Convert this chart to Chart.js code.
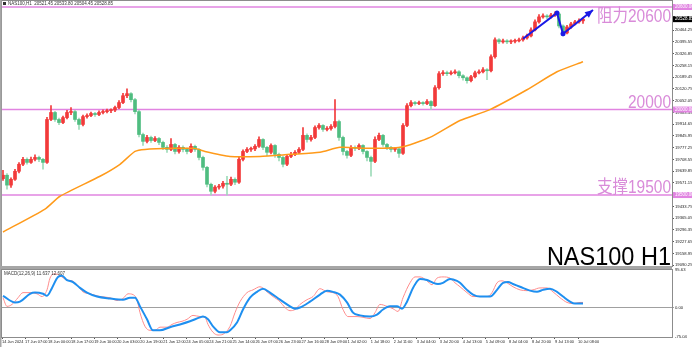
<!DOCTYPE html>
<html>
<head>
<meta charset="utf-8">
<script src="https://cdn.jsdelivr.net/npm/chart.js@4.4.1/dist/chart.umd.min.js"></script>
<style>
  html, body { margin: 0; padding: 0; background: #fff; }
  #wrap { position: relative; width: 692px; height: 347px; overflow: hidden; }
  #mainChart { position: absolute; left: 0; top: 0; }
  #macdChart { position: absolute; left: 0; top: 268px; }
</style>
</head>
<body>
<div id="wrap">
  <canvas id="mainChart" width="692" height="268"></canvas>
  <canvas id="macdChart" width="692" height="79"></canvas>
</div>
<script>
// NAS100 H1 candles (~3h per candle)
const firstOpen = 19596;
const closes = [
  19616, 19558, 19592, 19639, 19680, 19709, 19691, 19709, 19720, 19709,
  19691, 19942, 19983, 19942, 19924, 19953, 19983, 19988, 19942, 19913,
  19959, 19965, 19977, 19971, 19983, 19988, 19994, 19997, 20012, 20041,
  20081, 20093, 20058, 19988, 19854, 19814, 19837, 19819, 19831, 19808,
  19779, 19767, 19796, 19755, 19779, 19767, 19755, 19785, 19767, 19720,
  19662, 19563, 19522, 19546, 19552, 19569, 19563, 19592, 19575, 19709,
  19755, 19767, 19770, 19785, 19825, 19779, 19750, 19790, 19738, 19720,
  19680, 19726, 19738, 19750, 19767, 19849, 19825, 19837, 19895, 19907,
  19884, 19889, 19901, 19930, 19837, 19755, 19732, 19779, 19773, 19790,
  19755, 19720, 19697, 19825, 19849, 19796, 19779, 19767, 19770, 19744,
  19907, 20023, 20041, 20035, 20041, 20035, 20047, 20023, 20128, 20210,
  20215, 20210, 20215, 20221, 20198, 20186, 20169, 20192, 20215, 20221,
  20233, 20227, 20309, 20408, 20396, 20402, 20396, 20399, 20402, 20408,
  20419, 20431, 20466, 20513, 20542, 20548, 20542, 20553, 20559, 20489,
  20448, 20483, 20501, 20513, 20519, 20528.85
];
const highs = [
  19645, 19625, 19600, 19650, 19690, 19720, 19718, 19722, 19735, 19728,
  19715, 19955, 20023, 19990, 19950, 19962, 19995, 20012, 19995, 19950,
  19968, 19975, 19985, 19984, 19992, 19998, 20003, 20005, 20020, 20052,
  20095, 20122, 20100, 20065, 19995, 19862, 19850, 19845, 19842, 19838,
  19815, 19790, 19830, 19802, 19790, 19788, 19775, 19800, 19792, 19772,
  19728, 19668, 19570, 19555, 19562, 19580, 19610, 19605, 19600, 19720,
  19765, 19778, 19780, 19795, 19840, 19830, 19785, 19800, 19795, 19745,
  19728, 19735, 19750, 19760, 19778, 19895, 19858, 19850, 19905, 19918,
  19912, 19900, 19912, 20058, 19938, 19845, 19762, 19790, 19788, 19800,
  19795, 19760, 19728, 19840, 19862, 19855, 19802, 19785, 19778, 19775,
  19918, 20035, 20052, 20048, 20050, 20047, 20058, 20052, 20140, 20222,
  20228, 20225, 20226, 20233, 20228, 20205, 20192, 20200, 20225, 20232,
  20245, 20240, 20320, 20420, 20415, 20412, 20410, 20408, 20412, 20418,
  20430, 20442, 20478, 20525, 20555, 20560, 20556, 20563, 20572, 20565,
  20495, 20492, 20510, 20522, 20530, 20533.8
];
const lows = [
  19585, 19534, 19545, 19585, 19630, 19672, 19680, 19685, 19700, 19695,
  19651, 19685, 19935, 19930, 19912, 19918, 19945, 19970, 19930, 19884,
  19905, 19950, 19958, 19960, 19965, 19975, 19980, 19982, 19988, 20005,
  20035, 20070, 20045, 19975, 19840, 19790, 19805, 19808, 19812, 19795,
  19765, 19750, 19760, 19740, 19745, 19752, 19740, 19748, 19755, 19705,
  19645, 19548, 19500, 19512, 19535, 19540, 19500, 19555, 19560, 19568,
  19700, 19748, 19755, 19760, 19778, 19765, 19730, 19740, 19720, 19700,
  19665, 19672, 19718, 19730, 19742, 19760, 19810, 19815, 19830, 19885,
  19872, 19875, 19880, 19892, 19820, 19735, 19715, 19725, 19760, 19765,
  19740, 19700, 19610, 19690, 19818, 19785, 19765, 19752, 19755, 19720,
  19738, 19900, 20015, 20025, 20028, 20025, 20028, 20000, 20018, 20120,
  20200, 20198, 20202, 20208, 20185, 20172, 20155, 20162, 20185, 20208,
  20215, 20175, 20220, 20300, 20385, 20388, 20385, 20386, 20390, 20395,
  20400, 20412, 20425, 20460, 20505, 20535, 20530, 20535, 20545, 20478,
  20430, 20442, 20475, 20495, 20505, 20504.45
];

// moving average (orange), read at candle positions
const maIdx = [0, 10.5, 14.25, 24.25, 29.25, 33, 35.5, 43, 48, 50.5, 56.75, 64.25,
  71.75, 79.25, 84.25, 91.75, 99.25, 106.75, 114.25, 121.75, 131, 138.5, 145];
const maValues = [19284, 19418, 19493, 19610, 19680, 19755, 19767, 19773, 19773, 19755, 19726, 19726,
  19738, 19750, 19779, 19773, 19779, 19837, 19936, 20000, 20116, 20221, 20280];

// blue trend arrows
const arrowIdx = [130, 138.5, 140, 147.5];
const arrowPrices = [20414, 20565, 20443, 20582];

// support / resistance
const levels = [20600, 20000, 19500];
const levelTexts = ["阻力20600", "20000", "支撑19500"];

const priceTicks = [19090.25, 19158.95, 19227.65, 19296.35, 19365.05, 19433.75, 19571.15,
  19639.85, 19708.55, 19777.25, 19845.95, 19914.65, 19983.35, 20052.05, 20120.75, 20189.45,
  20258.15, 20326.85, 20395.55, 20464.25];

// MACD panel
const macdIdx = [0, 1, 2.25, 3.75, 5, 6.75, 8.5, 9.75, 11, 11.75, 13, 14.25, 16, 17.25, 18.5, 20,
  21.75, 24.25, 26.75, 28.5, 30, 31.25, 32.5, 33.5, 34.25, 35.5, 36.75, 38, 39.25, 41, 42.25, 43.5,
  44.75, 46, 47.5, 49.25, 50.5, 51.25, 52.5, 53.75, 55, 56.75, 58, 59.25, 61, 62.5, 64.25, 66, 67.5,
  69.25, 70.5, 71.75, 73, 74.25, 76, 77.5, 79.25, 81, 82.5, 83.75, 85, 86.25, 88.5, 90, 91.75, 93,
  94.25, 96, 97.5, 98.75, 100, 101.75, 103, 104.25, 106, 107.25, 108.5, 110, 111.75, 113, 114.25,
  116, 117.5, 119.25, 121, 122.25, 123.5, 124.75, 126, 127.5, 129.25, 131, 132.5, 134.25, 136,
  137.5, 139.25, 141, 142.5, 144.25, 145];
const macdValues = [25, 3, 8, 25, 38, 38, 35, 28, 45, 75, 86, 81, 70, 68, 58, 40,
  35, 28, 25, 18, 23, 35, 33, 20, -13, -48, -58, -58, -50, -50, -43, -38,
  -35, -30, -20, -23, -25, -43, -63, -70, -68, -48, -13, 15, 38, 45, 53, 40, 28,
  15, 0, -8, -5, 8, 20, 28, 48, 40, 38, 28, -5, -23, -23, -25, -28, -13,
  8, 3, -3, -10, 25, 63, 78, 78, 68, 58, 75, 78, 75, 63, 53,
  38, 28, 28, 28, 38, 63, 68, 63, 53, 45, 43, 45, 50, 50,
  40, 25, 13, 10, 13, 13];
const signalIdx = [0, 3, 4.25, 6.75, 8, 10, 11, 12.25, 13.75, 14.75, 16, 17.5, 19.25, 21, 23.5,
  26.75, 30, 31.75, 33, 34.25, 36, 37.5, 39.25, 41.75, 44.25, 46.75, 49.25, 50, 51.25, 52.5,
  54.25, 56, 56.75, 58.5, 60, 61.75, 63.5, 65, 66.75, 69.25, 71.75, 73, 74.25, 76.75, 79.25, 81,
  82.5, 84.25, 86, 87.5, 89.25, 91.75, 93.5, 95, 96.75, 98.5, 99.75, 101, 102.5, 104.25, 106,
  107.5, 108.75, 110, 111.75, 113.5, 114.25, 116, 117.5, 119.25, 121.75, 123.5, 125, 126.25,
  127.5, 129.25, 131.75, 133.5, 135, 136.75, 138.5, 140, 141.75, 143, 145];
const signalValues = [30, 13, 15, 35, 38, 35, 30, 50, 78, 81, 70, 65, 50, 38, 28,
  23, 20, 25, 25, 3, -30, -58, -58, -50, -43, -35, -25, -23, -30, -48,
  -63, -63, -58, -38, -5, 25, 40, 48, 38, 20, 3, -3, 0, 15, 33, 43,
  40, 33, 13, -13, -20, -23, -18, -5, 3, 3, -3, 15, 50, 73, 70,
  63, 60, 63, 73, 68, 63, 45, 33, 28, 28, 45, 63, 65,
  60, 53, 43, 40, 45, 48, 40, 28, 15, 10, 10];
const macdTicks = [95.63, 0, -75.04];

const dateLabels = ["14 Jun 2024", "17 Jun 07:00", "18 Jun 00:00", "18 Jun 17:00", "19 Jun 10:00",
  "20 Jun 03:00", "20 Jun 19:00", "21 Jun 12:00", "24 Jun 05:00", "24 Jun 21:00", "25 Jun 14:00",
  "26 Jun 07:00", "26 Jun 23:00", "27 Jun 16:00", "28 Jun 09:00", "1 Jul 02:00", "1 Jul 18:00",
  "2 Jul 11:00", "3 Jul 04:00", "3 Jul 20:00", "4 Jul 13:00", "5 Jul 09:00", "8 Jul 04:00",
  "8 Jul 20:00", "9 Jul 13:00", "10 Jul 08:00"];

const headerText = "NAS100,H1  20521.45 20533.80 20504.45 20528.85";
const macdHeader = "MACD(12,26,9) 11.637 12.607";
const titleText = "NAS100 H1";

const levelColor = "#e184e1";
const levelTextColor = "#d98bd9";
const tinyFont = "4.5px 'Liberation Sans', sans-serif";
const xMin = -0.25;
const xMax = 167.25;

const opens = closes.map((c, i) => (i === 0 ? firstOpen : closes[i - 1]));
const bodyColors = closes.map((c, i) => (c >= opens[i] ? "#f23a3a" : "#4fbd80"));
const wickColors = closes.map((c, i) => (c >= opens[i] ? "#f23a3a" : "#9edbb9"));

function squeezedText(ctx, text, x, y, sx) {
  ctx.save();
  ctx.translate(x, y);
  ctx.scale(sx, 1);
  ctx.textAlign = "right";
  ctx.fillText(text, 0, 0);
  ctx.restore();
}

function axisBox(ctx, x, y, fill, text) {
  ctx.fillStyle = fill;
  ctx.fillRect(x, y - 3, 692 - x, 6);
  ctx.fillStyle = "#fff";
  ctx.font = tinyFont;
  ctx.textAlign = "left";
  ctx.textBaseline = "middle";
  ctx.fillText(text, x + 2, y);
}

const mainDecor = {
  id: "mainDecor",
  beforeDatasetsDraw(chart) {
    const { ctx, chartArea, scales } = chart;
    ctx.save();
    ctx.strokeStyle = levelColor;
    ctx.lineWidth = 1.5;
    levels.forEach((lv) => {
      const y = scales.y.getPixelForValue(lv);
      ctx.beginPath();
      ctx.moveTo(chartArea.left, y);
      ctx.lineTo(chartArea.right, y);
      ctx.stroke();
    });
    ctx.restore();
  },
  afterDraw(chart) {
    const { ctx, chartArea, scales } = chart;
    ctx.save();
    // frame
    ctx.strokeStyle = "#8c8c8c";
    ctx.lineWidth = 1;
    ctx.strokeRect(chartArea.left - 0.5, chartArea.top - 0.5,
      chartArea.right - chartArea.left + 1, chartArea.bottom - chartArea.top + 1);
    ctx.fillStyle = "#a6a6a6";
    ctx.fillRect(0, 0, 1.5, chart.height);
    ctx.fillRect(0, chartArea.bottom, chartArea.right, chart.height - chartArea.bottom);

    // header
    ctx.fillStyle = "#333";
    ctx.fillRect(3, 2, 3, 3);
    ctx.font = tinyFont;
    ctx.textAlign = "left";
    ctx.textBaseline = "middle";
    ctx.fillText(headerText, 8, 3.8);

    // level texts
    ctx.fillStyle = levelTextColor;
    ctx.font = "18px 'Liberation Sans', 'Noto Sans CJK SC', sans-serif";
    ctx.textBaseline = "alphabetic";
    levels.forEach((lv, k) => {
      const y = scales.y.getPixelForValue(lv);
      const base = k === 0 ? y + 15 : y - 2;
      squeezedText(ctx, levelTexts[k], chartArea.right - 1, base, 0.86);
    });

    // title
    ctx.fillStyle = "#000";
    ctx.font = "25px 'Liberation Sans', sans-serif";
    squeezedText(ctx, titleText, chartArea.right - 1, chartArea.bottom - 1, 0.94);

    // axis boxes
    levels.forEach((lv) => {
      axisBox(ctx, chartArea.right + 1, scales.y.getPixelForValue(lv), levelColor, lv.toFixed(2));
    });
    const last = closes[closes.length - 1];
    axisBox(ctx, chartArea.right + 1, scales.y.getPixelForValue(last), "#000", last.toFixed(2));

    // arrow head
    const pts = chart.getDatasetMeta(3).data;
    const a = pts[pts.length - 2];
    const b = pts[pts.length - 1];
    const ang = Math.atan2(b.y - a.y, b.x - a.x);
    ctx.fillStyle = "#1a1ae6";
    ctx.beginPath();
    ctx.moveTo(b.x, b.y);
    ctx.lineTo(b.x - 8 * Math.cos(ang) + 3.5 * Math.sin(ang), b.y - 8 * Math.sin(ang) - 3.5 * Math.cos(ang));
    ctx.lineTo(b.x - 8 * Math.cos(ang) - 3.5 * Math.sin(ang), b.y - 8 * Math.sin(ang) + 3.5 * Math.cos(ang));
    ctx.closePath();
    ctx.fill();
    ctx.restore();
  },
};

new Chart(document.getElementById("mainChart"), {
  type: "bar",
  data: {
    datasets: [
      {
        label: "wick",
        data: closes.map((c, i) => ({ x: i, y: [lows[i], highs[i]] })),
        backgroundColor: wickColors,
        barThickness: 1,
        grouped: false,
        order: 4,
      },
      {
        label: "body",
        data: closes.map((c, i) => ({ x: i, y: [opens[i], c] })),
        backgroundColor: bodyColors,
        barThickness: 3,
        minBarLength: 1,
        grouped: false,
        order: 3,
      },
      {
        type: "line",
        label: "MA",
        data: maIdx.map((x, k) => ({ x: x, y: maValues[k] })),
        borderColor: "#ff9a1a",
        borderWidth: 1.5,
        pointRadius: 0,
        tension: 0.2,
        order: 2,
      },
      {
        type: "line",
        label: "arrow",
        data: arrowIdx.map((x, k) => ({ x: x, y: arrowPrices[k] })),
        borderColor: "#1a1ae6",
        borderWidth: 2,
        pointRadius: [0, 2.5, 2.5, 0],
        pointBackgroundColor: "#1a1ae6",
        pointBorderWidth: 0,
        tension: 0,
        order: 1,
      },
    ],
  },
  options: {
    responsive: false,
    animation: false,
    layout: { padding: { left: 2, top: 1, right: 0, bottom: 2 } },
    plugins: { legend: { display: false }, tooltip: { enabled: false } },
    scales: {
      x: { type: "linear", min: xMin, max: xMax, offset: false, display: false },
      y: {
        type: "linear",
        position: "right",
        min: 19085,
        max: 20635,
        afterBuildTicks: (scale) => {
          scale.ticks = priceTicks.map((v) => ({ value: v }));
        },
        afterFit: (scale) => {
          scale.width = 20;
          scale.paddingTop = 0;
          scale.paddingBottom = 0;
        },
        ticks: {
          font: { size: 4.2, family: "'Liberation Sans', sans-serif" },
          color: "#222",
          padding: 1,
          callback: (v) => Number(v).toFixed(2),
        },
        grid: { drawOnChartArea: false, tickLength: 2, color: "#555" },
        border: { color: "#8c8c8c" },
      },
    },
  },
  plugins: [mainDecor],
});

const macdDecor = {
  id: "macdDecor",
  afterDraw(chart) {
    const { ctx, chartArea } = chart;
    ctx.save();
    ctx.fillStyle = "#a6a6a6";
    ctx.fillRect(0, 0, chartArea.right, 2);
    ctx.fillRect(0, 0, 1.5, chart.height);
    ctx.strokeStyle = "#8c8c8c";
    ctx.lineWidth = 1;
    ctx.strokeRect(chartArea.left - 0.5, chartArea.top - 0.5,
      chartArea.right - chartArea.left + 1, chartArea.bottom - chartArea.top + 1);
    ctx.fillStyle = "#333";
    ctx.font = tinyFont;
    ctx.textAlign = "left";
    ctx.textBaseline = "middle";
    ctx.fillText(macdHeader, 4, 5.5);
    ctx.restore();
  },
};

new Chart(document.getElementById("macdChart"), {
  type: "line",
  data: {
    datasets: [
      {
        label: "MACD",
        data: macdIdx.map((x, k) => ({ x: x, y: macdValues[k] })),
        borderColor: "#ff8c8c",
        borderWidth: 1,
        pointRadius: 0,
        cubicInterpolationMode: "monotone",
        order: 2,
      },
      {
        label: "Signal",
        data: signalIdx.map((x, k) => ({ x: x, y: signalValues[k] })),
        borderColor: "#1e8ff0",
        borderWidth: 2,
        pointRadius: 0,
        cubicInterpolationMode: "monotone",
        order: 1,
      },
    ],
  },
  options: {
    responsive: false,
    animation: false,
    layout: { padding: { left: 2, top: 2, right: 0, bottom: 0 } },
    plugins: { legend: { display: false }, tooltip: { enabled: false } },
    scales: {
      x: {
        type: "linear",
        min: xMin,
        max: xMax,
        offset: false,
        afterBuildTicks: (scale) => {
          scale.ticks = dateLabels.map((_, k) => ({ value: xMin + k * 5.76 }));
        },
        afterFit: (scale) => {
          scale.height = 10;
          scale.paddingLeft = 0;
          scale.paddingRight = 0;
        },
        ticks: {
          font: { size: 3.9, family: "'Liberation Sans', sans-serif" },
          color: "#222",
          align: "start",
          padding: 1,
          maxRotation: 0,
          autoSkip: false,
          callback: (v, k) => dateLabels[k],
        },
        grid: { drawOnChartArea: false, tickLength: 2, color: "#555" },
        border: { color: "#8c8c8c" },
      },
      y: {
        type: "linear",
        position: "right",
        min: -75.04,
        max: 95.63,
        afterBuildTicks: (scale) => {
          scale.ticks = macdTicks.map((v) => ({ value: v }));
        },
        afterFit: (scale) => {
          scale.width = 20;
          scale.paddingTop = 0;
          scale.paddingBottom = 0;
        },
        ticks: {
          font: { size: 4.2, family: "'Liberation Sans', sans-serif" },
          color: "#222",
          padding: 1,
          callback: (v) => Number(v).toFixed(2),
        },
        grid: {
          tickLength: 2,
          color: (c) => (c.tick && c.tick.value === 0 ? "#a0a0a0" : "rgba(0,0,0,0)"),
        },
        border: { color: "#8c8c8c" },
      },
    },
  },
  plugins: [macdDecor],
});
</script>
</body>
</html>
